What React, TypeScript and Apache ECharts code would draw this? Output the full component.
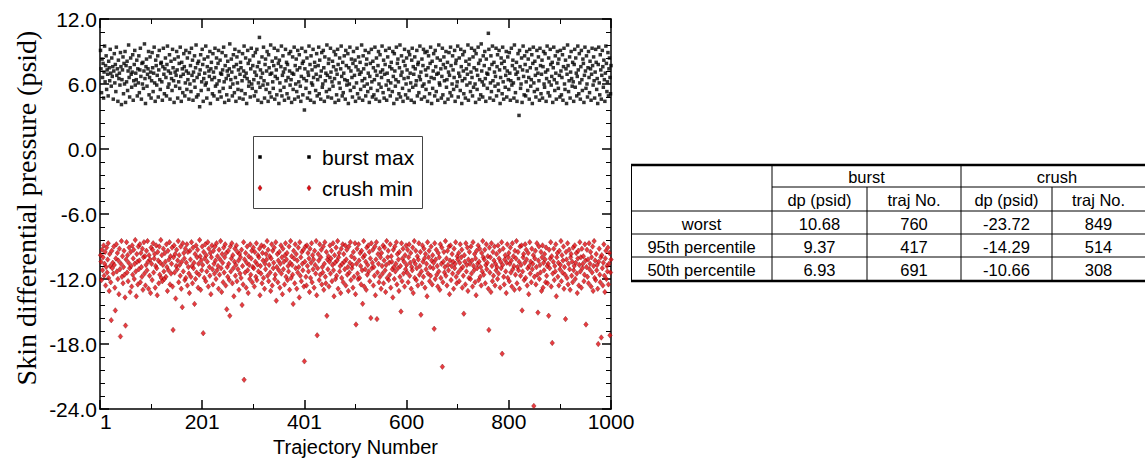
import React, { useEffect, useRef } from "react";
import * as echarts from "echarts";

// ---- Data ----
const burstMax: number[] = [
  9.1,7.4,5.2,8.3,6.6,7.9,4.7,7.1,9.5,6.2,7.7,8.6,5.5,7.3,6.9,4.9,8.1,7.5,6.3,9.2,7.0,5.8,8.4,6.7,7.6,
  4.6,7.2,8.8,6.1,7.8,5.3,9.4,6.8,7.4,4.4,8.2,6.5,7.0,5.9,8.9,7.6,4.1,6.4,7.3,8.5,5.1,7.9,6.0,9.0,4.3,
  7.7,6.2,8.1,5.4,7.2,9.6,6.6,4.8,7.5,8.4,6.9,5.7,7.1,8.7,4.5,6.3,7.8,9.1,5.9,7.0,6.4,8.2,4.9,7.4,6.1,
  8.6,5.2,7.3,9.3,6.7,4.6,7.9,6.0,8.0,5.6,7.2,9.7,6.5,4.2,7.6,8.3,5.8,6.9,7.4,9.0,5.0,6.6,8.5,7.1,4.7,
  6.3,8.9,7.5,5.3,7.0,9.4,6.1,4.4,8.2,7.7,5.9,6.8,8.6,4.8,7.3,9.1,6.4,5.5,7.9,8.0,6.2,4.5,7.6,9.3,6.9,
  5.1,7.4,8.4,6.6,4.9,7.8,9.5,5.7,7.2,6.0,8.7,4.6,7.0,8.1,6.5,5.4,9.2,7.5,6.3,4.3,8.3,7.1,5.8,6.8,9.0,
  7.3,4.7,8.5,6.2,7.9,5.6,9.4,6.7,4.4,8.0,7.4,5.2,6.9,8.8,7.6,4.9,6.1,9.1,7.2,5.5,8.4,6.4,7.0,4.6,8.9,
  6.0,7.7,5.3,9.3,6.8,8.2,4.5,7.1,6.3,8.6,5.7,7.5,9.6,4.8,6.6,7.9,5.0,8.1,6.9,3.9,7.3,8.7,5.4,6.2,9.2,
  7.8,4.4,6.5,8.3,7.0,5.9,9.5,6.1,4.7,7.6,8.5,5.5,7.2,6.7,9.0,4.2,7.4,8.0,6.4,5.1,8.8,7.1,4.9,6.6,9.3,
  5.8,7.5,8.4,6.0,4.6,7.9,9.1,6.3,5.3,8.2,7.0,4.8,6.9,8.9,7.3,5.6,9.4,6.2,4.3,7.7,8.6,6.5,5.0,7.2,8.1,
  6.8,4.5,7.4,9.7,5.7,6.4,8.3,7.1,4.9,6.0,8.7,7.6,5.2,9.2,6.6,4.4,7.8,8.5,6.1,5.5,7.3,9.0,4.7,6.9,8.0,
  7.5,5.4,6.3,8.8,4.6,7.2,9.5,6.7,5.1,8.4,7.0,4.2,6.5,9.1,7.9,5.8,6.2,8.2,4.8,7.4,9.3,6.0,5.6,7.7,8.6,
  6.4,4.9,7.1,8.9,5.3,6.8,9.2,7.6,4.5,6.1,8.0,10.3,5.7,7.3,6.6,4.3,8.5,7.0,5.9,9.4,6.3,4.7,7.8,8.3,5.5,
  7.2,9.0,6.0,4.4,8.7,7.5,5.2,6.9,9.6,4.8,7.0,8.1,6.2,5.6,7.7,9.3,4.6,6.7,8.4,7.3,5.0,6.5,9.1,7.9,4.2,
  8.2,6.1,5.4,7.6,9.5,4.9,6.8,8.6,7.1,5.7,4.5,7.4,9.2,6.3,8.0,5.1,7.8,6.6,4.7,8.8,7.2,5.9,9.0,6.4,4.3,
  7.0,8.5,5.5,6.9,9.4,4.6,7.7,6.0,8.3,5.3,7.3,9.1,4.8,6.2,8.7,7.5,5.8,4.4,6.7,9.3,7.9,5.0,8.1,6.5,3.6,
  7.4,9.0,5.6,6.3,8.4,4.7,7.1,6.8,9.5,5.2,7.8,4.5,8.6,6.1,7.3,5.9,9.2,6.6,4.3,8.0,7.6,5.4,6.9,8.8,4.9,
  6.4,7.7,9.4,5.1,8.2,6.7,4.6,7.2,8.9,5.7,6.0,9.1,7.5,4.4,8.5,6.3,7.0,5.3,9.6,6.8,4.8,7.9,8.3,5.5,6.6,
  9.3,7.1,4.7,6.2,8.1,5.8,7.6,9.0,6.5,4.3,8.7,7.3,5.0,6.9,9.2,7.8,4.5,6.1,8.4,5.6,7.4,9.5,6.7,4.9,8.0,
  5.2,7.0,8.6,6.4,4.6,9.1,7.7,5.9,6.3,8.8,4.2,7.5,6.0,9.4,5.4,7.2,8.3,6.6,4.8,7.9,9.0,5.7,6.8,8.2,4.4,
  7.6,6.1,9.3,5.1,7.3,8.5,4.7,6.9,8.0,5.5,7.1,9.6,6.3,4.5,8.6,7.4,5.8,6.5,9.1,4.9,7.8,8.3,6.0,5.3,7.0,
  8.9,4.3,6.7,7.9,5.6,9.2,6.2,4.8,8.1,7.5,5.0,6.4,9.4,7.2,4.6,8.4,6.8,5.4,7.7,9.0,6.0,4.4,8.7,7.1,5.7,
  6.6,9.5,7.3,5.2,8.2,4.7,6.9,7.8,9.1,5.9,4.5,7.0,8.5,6.3,5.5,9.3,7.6,4.9,6.1,8.0,7.4,5.3,9.0,6.7,4.2,
  8.8,7.2,5.8,6.4,9.4,4.6,7.9,8.3,6.2,5.1,7.5,9.6,4.8,6.8,8.6,7.1,5.6,4.4,8.1,6.5,9.2,7.7,5.0,6.0,8.4,
  7.3,4.7,6.6,9.0,5.4,8.7,7.0,6.1,4.5,8.2,9.3,5.7,7.6,6.9,4.3,8.5,7.4,5.9,6.3,9.1,4.9,7.8,8.0,5.2,6.7,
  9.5,6.4,7.1,4.6,8.3,5.8,7.7,9.2,6.0,4.8,8.9,7.3,5.5,6.8,9.0,4.4,7.5,8.6,6.2,5.1,7.9,9.4,6.6,4.2,8.1,
  5.6,7.2,8.8,6.5,4.9,9.1,7.6,5.3,6.9,8.4,4.5,7.0,9.6,6.1,5.9,8.2,7.4,4.7,6.7,9.3,5.0,7.8,8.5,6.3,4.3,
  7.5,9.0,5.7,6.4,8.0,4.6,7.1,8.9,6.8,5.2,9.4,7.7,4.9,6.0,8.6,7.3,5.5,6.6,9.1,4.4,7.9,8.2,5.8,6.2,9.5,
  4.8,7.0,8.4,6.7,5.4,9.2,7.6,4.2,6.3,8.7,7.2,5.1,9.0,6.5,4.7,8.1,7.4,5.9,6.9,9.6,4.5,7.8,8.3,6.1,5.3,
  7.1,9.3,6.6,4.9,8.5,5.7,7.5,9.1,6.0,4.3,8.8,7.3,5.5,6.8,9.4,7.9,4.6,6.4,8.2,5.0,9.7,7.2,6.2,4.8,8.6,
  5.9,7.7,9.0,6.5,4.4,8.3,7.0,5.6,6.9,10.68,9.2,7.4,4.7,6.1,8.6,5.3,7.8,9.5,6.3,4.5,8.0,7.1,5.8,6.7,9.3,
  4.9,7.6,8.7,6.0,5.4,9.1,7.3,4.2,6.6,8.4,7.9,5.1,9.4,6.2,4.6,8.1,7.5,5.7,6.8,9.0,4.8,7.2,8.5,6.4,5.5,
  8.9,7.0,4.5,6.3,9.3,5.9,7.7,8.2,6.1,4.7,9.6,7.4,5.2,6.9,8.0,4.4,7.1,8.8,6.5,3.1,9.1,7.6,5.6,6.0,8.4,
  4.3,7.3,9.5,6.7,5.0,8.6,7.8,4.9,6.2,9.0,7.2,5.4,8.3,6.6,4.6,9.2,7.5,5.8,6.4,8.7,4.2,7.9,9.4,6.1,5.3,
  8.1,6.8,4.8,7.4,9.1,5.5,7.0,8.5,6.3,4.5,9.3,7.7,5.1,6.9,8.2,4.7,7.6,9.0,6.0,5.7,8.8,7.1,4.4,6.5,9.5,
  7.3,5.2,8.4,6.2,4.9,9.2,7.8,5.9,6.7,8.0,4.3,7.5,9.4,6.4,5.4,8.6,7.0,4.6,6.1,9.0,7.9,5.6,8.3,6.8,4.8,
  9.1,7.2,5.0,6.6,8.7,4.5,7.6,9.3,6.0,5.5,8.2,7.4,4.2,6.9,9.6,7.7,5.3,6.3,8.5,4.7,7.1,9.0,6.5,5.8,8.0,
  6.2,4.4,7.8,9.2,5.7,8.4,7.0,4.9,6.7,9.5,7.3,5.1,8.8,6.1,4.6,7.6,9.1,6.4,5.4,8.3,7.9,4.3,6.8,9.4,7.2,
  5.6,8.6,6.0,4.8,7.5,9.0,6.6,5.2,8.1,7.4,4.5,6.9,9.3,7.7,5.9,8.5,6.3,4.7,7.1,9.2,8.0,5.5,6.5,4.2,7.8,
  9.4,6.1,5.0,8.7,7.3,4.6,6.8,9.1,7.6,5.7,8.2,6.4,4.4,7.0,9.5,7.9,5.3,6.2,8.9,4.9,7.4,8.4,6.6,5.1,7.7,
];

const crushMin: number[] = [
  -9.8,-10.4,-12.1,-9.3,-11.2,-10.0,-8.9,-11.7,-10.6,-9.5,-12.6,-10.9,-9.1,-11.4,-10.2,-8.7,-11.9,-13.1,-9.7,-10.8,-12.3,-15.8,-9.4,-11.0,-10.5,
  -11.5,-9.0,-10.7,-12.8,-14.9,-10.1,-8.8,-11.3,-9.6,-12.0,-10.3,-13.4,-9.2,-11.1,-17.3,-10.6,-8.5,-11.8,-9.9,-12.4,-10.9,-9.4,-11.6,-13.7,-16.3,
  -10.2,-8.6,-11.4,-9.8,-12.2,-10.5,-9.1,-11.0,-13.2,-9.5,-10.8,-12.7,-8.9,-11.6,-10.1,-9.3,-12.0,-10.6,-8.4,-11.3,-13.6,-9.7,-10.4,-12.5,-9.0,
  -11.1,-10.3,-8.8,-12.3,-9.6,-10.9,-11.8,-9.2,-13.0,-10.0,-8.6,-11.5,-9.9,-12.6,-10.7,-9.4,-11.2,-8.5,-10.4,-12.9,-9.8,-11.7,-10.2,-13.3,-9.1,
  -10.6,-12.1,-9.3,-8.7,-11.4,-10.1,-9.7,-12.8,-10.8,-8.9,-11.0,-13.5,-9.5,-10.3,-12.4,-9.0,-11.6,-10.5,-8.4,-11.9,-9.8,-12.2,-10.7,-9.2,-11.3,
  -12.0,-9.6,-10.4,-11.8,-8.8,-10.9,-13.1,-9.4,-11.2,-10.2,-8.6,-12.5,-9.9,-11.5,-10.6,-9.1,-12.7,-16.7,-10.0,-8.9,-11.4,-9.7,-13.8,-10.8,-9.3,
  -11.1,-10.3,-8.5,-12.3,-9.8,-10.7,-11.7,-9.0,-12.9,-10.4,-14.6,-8.7,-11.3,-9.6,-10.1,-12.1,-9.2,-11.9,-10.5,-8.8,-12.6,-9.5,-10.9,-11.5,-13.3,
  -9.4,-10.2,-11.8,-8.6,-10.8,-12.4,-9.1,-11.0,-10.5,-14.3,-9.7,-12.0,-8.9,-11.4,-10.0,-9.3,-12.8,-10.6,-11.6,-8.4,-9.9,-13.0,-10.3,-11.2,-9.0,
  -10.7,-17.0,-9.5,-11.9,-10.1,-8.8,-12.2,-9.8,-11.3,-10.4,-8.6,-12.7,-9.2,-10.9,-11.7,-9.6,-13.4,-10.0,-8.9,-11.1,-12.5,-9.4,-10.6,-11.5,-9.0,
  -10.3,-12.0,-8.7,-11.2,-9.9,-10.8,-12.9,-9.3,-11.6,-10.2,-8.5,-11.0,-13.2,-9.7,-10.5,-12.3,-9.1,-11.4,-10.0,-8.8,-12.6,-9.6,-14.8,-10.9,-11.8,
  -9.4,-10.6,-12.1,-15.4,-9.0,-11.3,-10.1,-8.7,-12.4,-9.8,-11.0,-13.6,-10.4,-9.2,-11.7,-10.7,-8.9,-12.2,-9.5,-11.1,-10.3,-13.0,-9.7,-11.5,-10.0,
  -11.9,-9.3,-14.4,-10.8,-12.5,-8.6,-21.3,-10.2,-11.4,-9.6,-12.8,-10.5,-9.0,-11.2,-13.3,-9.9,-10.7,-12.0,-8.8,-11.6,-10.1,-9.4,-12.3,-10.9,-9.1,
  -11.0,-12.7,-9.5,-10.4,-11.8,-8.7,-12.1,-10.66,-9.8,-11.3,-10.0,-9.2,-13.5,-10.8,-11.5,-8.9,-12.4,-9.6,-10.3,-11.9,-9.0,-12.9,-10.6,-11.1,-9.7,
  -10.2,-8.5,-11.7,-9.3,-12.2,-10.7,-9.9,-11.4,-13.1,-10.1,-8.8,-12.6,-9.4,-11.0,-10.5,-9.1,-12.0,-11.6,-8.6,-14.0,-10.9,-9.7,-12.3,-10.3,-11.2,
  -9.5,-12.8,-10.6,-8.9,-11.5,-10.0,-13.4,-9.2,-11.1,-10.4,-12.5,-9.8,-8.7,-11.8,-10.2,-9.6,-12.1,-10.8,-11.3,-9.0,-13.0,-10.5,-8.5,-11.9,-9.9,
  -10.7,-11.6,-14.3,-9.4,-10.1,-12.4,-8.8,-11.0,-9.7,-12.9,-10.3,-11.4,-9.1,-10.9,-13.7,-8.6,-11.7,-10.0,-12.2,-9.5,-10.6,-11.2,-9.3,-12.7,-19.6,
  -10.4,-9.0,-11.8,-12.6,-8.9,-10.8,-9.6,-11.3,-10.1,-13.2,-9.2,-11.9,-10.5,-8.7,-12.3,-9.8,-11.1,-10.2,-12.8,-9.4,-10.7,-11.5,-8.5,-13.5,-17.2,
  -11.0,-9.7,-10.3,-12.1,-8.8,-11.6,-10.0,-9.3,-12.5,-10.9,-11.4,-9.0,-13.0,-10.6,-8.6,-11.8,-12.4,-9.5,-15.4,-10.2,-11.1,-9.9,-12.7,-10.4,-8.9,
  -11.5,-10.1,-9.4,-12.2,-10.7,-8.7,-11.2,-13.6,-9.8,-10.5,-12.0,-9.1,-11.7,-10.3,-8.5,-12.9,-10.0,-9.6,-11.3,-10.8,-13.3,-9.2,-11.9,-10.6,-8.8,
  -12.3,-9.7,-10.4,-11.1,-8.9,-12.6,-10.2,-9.3,-11.6,-10.9,-13.1,-9.0,-11.4,-10.5,-8.6,-12.1,-9.9,-11.0,-10.7,-12.8,-9.5,-11.8,-10.1,-8.7,-13.4,
  -16.2,-10.6,-9.2,-11.5,-12.0,-8.8,-10.3,-11.9,-9.6,-10.8,-12.5,-9.4,-11.2,-14.29,-10.0,-8.5,-12.7,-9.8,-11.1,-10.4,-13.0,-9.1,-11.6,-10.7,-8.9,
  -11.3,-9.5,-12.2,-10.1,-15.6,-8.7,-11.0,-10.5,-9.3,-12.6,-10.9,-11.7,-9.0,-13.5,-10.2,-8.6,-15.7,-11.4,-9.7,-10.6,-12.3,-9.2,-11.8,-10.0,-12.9,
  -9.6,-10.8,-11.5,-8.9,-12.4,-10.3,-9.1,-11.2,-13.2,-10.7,-8.5,-11.9,-10.0,-9.4,-12.1,-10.5,-11.6,-8.8,-12.8,-9.9,-10.4,-11.1,-13.7,-9.3,-10.9,
  -12.0,-9.0,-11.3,-10.6,-8.6,-12.5,-9.7,-11.0,-10.2,-13.1,-9.5,-11.8,-10.8,-15.0,-8.7,-12.2,-10.1,-9.2,-11.5,-10.4,-12.7,-9.8,-11.1,-8.9,-10.7,
  -11.4,-9.3,-12.3,-10.0,-8.8,-11.7,-10.5,-9.6,-12.9,-10.9,-11.2,-9.1,-13.3,-10.3,-8.5,-11.9,-10.6,-9.4,-12.1,-11.0,-9.9,-12.6,-10.2,-8.7,-11.6,
  -10.8,-9.5,-15.3,-11.3,-12.4,-8.9,-10.4,-11.8,-9.2,-10.1,-12.8,-9.7,-11.1,-10.6,-13.6,-8.6,-11.5,-10.0,-9.4,-12.2,-10.9,-11.7,-9.0,-10.3,-12.5,
  -9.8,-11.0,-10.5,-16.6,-8.7,-12.0,-10.2,-9.3,-11.6,-10.8,-12.7,-9.6,-11.3,-10.0,-13.0,-8.8,-11.9,-10.6,-9.1,-20.1,-12.3,-10.4,-9.5,-11.4,-10.9,
  -8.5,-11.7,-10.1,-12.6,-9.4,-10.7,-11.2,-9.0,-13.4,-10.3,-8.9,-12.1,-10.8,-9.7,-11.5,-10.4,-12.9,-9.2,-11.0,-10.6,-8.6,-11.8,-12.4,-9.9,-10.2,
  -11.4,-9.6,-12.2,-10.5,-8.8,-11.1,-10.0,-9.3,-12.8,-10.9,-11.7,-15.2,-9.8,-10.4,-12.5,-8.7,-11.3,-10.7,-9.1,-13.1,-10.2,-11.9,-9.5,-10.6,-12.0,
  -9.0,-11.5,-10.3,-12.7,-8.6,-10.8,-11.2,-9.7,-12.3,-10.1,-13.5,-9.4,-11.0,-10.6,-8.9,-12.1,-10.4,-9.2,-11.8,-10.9,-12.6,-9.6,-11.3,-8.5,-10.0,
  -11.6,-10.2,-9.3,-12.4,-10.7,-8.8,-11.1,-10.5,-9.9,-12.9,-16.7,-9.1,-11.4,-10.0,-13.2,-8.7,-10.8,-12.2,-9.5,-11.7,-10.3,-9.0,-12.6,-10.6,-11.2,
  -9.7,-10.9,-12.0,-8.9,-11.5,-10.1,-9.4,-12.8,-10.4,-11.0,-8.6,-18.9,-10.7,-9.2,-11.8,-12.5,-10.2,-9.8,-11.3,-13.3,-10.5,-8.8,-11.9,-10.0,-9.6,
  -12.2,-10.6,-9.1,-11.4,-10.3,-12.7,-8.7,-11.1,-9.9,-10.8,-13.0,-9.4,-11.6,-10.1,-8.5,-12.4,-10.9,-9.5,-11.2,-10.4,-12.9,-9.0,-11.7,-10.7,-8.9,
  -14.9,-11.3,-10.0,-9.7,-12.1,-10.5,-8.8,-11.9,-9.3,-10.2,-12.6,-11.0,-9.6,-13.4,-10.8,-8.6,-11.5,-10.4,-12.3,-9.2,-11.1,-10.6,-9.8,-23.72,-11.8,
  -10.1,-9.4,-12.5,-10.9,-8.7,-11.6,-15.1,-10.3,-9.0,-12.0,-10.7,-11.4,-9.5,-13.1,-10.0,-8.9,-12.8,-10.5,-11.2,-9.7,-10.2,-12.3,-9.1,-11.7,-10.8,
  -12.4,-10.6,-15.4,-9.3,-11.0,-10.1,-8.6,-12.7,-9.9,-17.9,-11.5,-10.4,-9.2,-12.1,-10.8,-11.3,-8.8,-13.6,-10.0,-9.6,-11.8,-10.5,-12.6,-9.4,-11.1,
  -10.7,-8.5,-12.2,-9.8,-11.4,-10.3,-9.0,-12.9,-10.9,-11.6,-15.7,-9.5,-10.2,-11.9,-8.7,-12.5,-10.6,-9.3,-11.1,-13.0,-10.0,-9.7,-11.7,-10.4,-12.3,
  -9.1,-11.2,-10.8,-8.9,-12.0,-10.5,-9.6,-11.5,-13.3,-10.1,-9.4,-12.6,-10.7,-8.6,-11.3,-10.0,-12.8,-9.2,-11.0,-10.6,-9.9,-12.2,-11.6,-8.8,-10.3,
  -16.2,-10.9,-9.3,-11.8,-10.2,-12.4,-8.7,-11.1,-10.6,-9.5,-12.7,-10.0,-11.4,-9.0,-13.1,-10.8,-8.5,-11.9,-10.3,-12.1,-9.7,-11.2,-10.7,-12.9,-18.0,
  -10.4,-9.2,-11.6,-12.3,-10.0,-17.4,-9.8,-11.0,-12.6,-10.5,-8.8,-11.7,-13.2,-10.1,-9.4,-12.0,-10.8,-11.3,-9.1,-12.5,-10.6,-9.6,-17.2,-11.4,-10.2,
];

const trajectory: number[] = burstMax.map((_, i) => i + 1);

const xTickValues: number[] = [0, 200, 400, 600, 800, 1000];
const xTickLabels: string[] = ["1", "201", "401", "600", "800", "1000"];

const seriesNames: string[] = ["burst max", "crush min"];

const tableGroupHeaders: string[] = ["burst", "crush"];
const tableSubHeaders: string[] = ["dp (psid)", "traj No.", "dp (psid)", "traj No."];
const tableRowLabels: string[] = ["worst", "95th percentile", "50th percentile"];
const burstDp: string[] = ["10.68", "9.37", "6.93"];
const burstTraj: string[] = ["760", "417", "691"];
const crushDp: string[] = ["-23.72", "-14.29", "-10.66"];
const crushTraj: string[] = ["849", "514", "308"];

const RED = "#e40b12";
const RED_EDGE = "#7a0a0a";
const SANS = "Liberation Sans, Arial, sans-serif";
const SERIF = "Liberation Serif, Times New Roman, serif";

function buildTable(): any[] {
  const colX = [631, 772, 867, 961, 1052, 1145];
  const rowY = [165, 187, 211, 234, 257, 281];
  const els: any[] = [];
  const line = (x1: number, y1: number, x2: number, y2: number, w = 1) =>
    els.push({
      type: "line",
      shape: { x1, y1, x2, y2 },
      style: { stroke: "#000", lineWidth: w },
      silent: true,
    });
  const text = (t: string, cx: number, cy: number) =>
    els.push({
      type: "text",
      x: cx,
      y: cy,
      style: {
        text: t,
        fill: "#000",
        font: `16.5px ${SANS}`,
        align: "center",
        verticalAlign: "middle",
      },
      silent: true,
    });
  line(colX[0], rowY[0], colX[5], rowY[0], 2.5);
  line(colX[0], rowY[5], colX[5], rowY[5], 2.5);
  line(colX[0] + 0.5, rowY[0], colX[0] + 0.5, rowY[5], 1);
  line(colX[1], rowY[1], colX[5], rowY[1], 1);
  for (let r = 2; r <= 4; r++) line(colX[0], rowY[r], colX[5], rowY[r], 1);
  line(colX[1], rowY[0], colX[1], rowY[5], 1);
  line(colX[3], rowY[0], colX[3], rowY[5], 1);
  line(colX[2], rowY[1], colX[2], rowY[5], 1);
  line(colX[4], rowY[1], colX[4], rowY[5], 1);
  text(tableGroupHeaders[0], (colX[1] + colX[3]) / 2, (rowY[0] + rowY[1]) / 2 + 1);
  text(tableGroupHeaders[1], (colX[3] + colX[5]) / 2 + 4, (rowY[0] + rowY[1]) / 2 + 1);
  for (let c = 0; c < 4; c++)
    text(tableSubHeaders[c], (colX[c + 1] + colX[c + 2]) / 2, (rowY[1] + rowY[2]) / 2 + 1);
  for (let r = 0; r < 3; r++) {
    const cy = (rowY[r + 2] + rowY[r + 3]) / 2 + 1;
    text(tableRowLabels[r], (colX[0] + colX[1]) / 2, cy);
    text(burstDp[r], (colX[1] + colX[2]) / 2, cy);
    text(burstTraj[r], (colX[2] + colX[3]) / 2, cy);
    text(crushDp[r], (colX[3] + colX[4]) / 2, cy);
    text(crushTraj[r], (colX[4] + colX[5]) / 2, cy);
  }
  return els;
}

function buildLegend(): any[] {
  const els: any[] = [];
  els.push({
    type: "rect",
    shape: { x: 253.5, y: 136.5, width: 169, height: 72 },
    style: { fill: "#fff", stroke: "#444", lineWidth: 1 },
    silent: true,
    z: 10,
  });
  const rows = [157, 188];
  [260, 309].forEach((sx) => {
    els.push({
      type: "rect",
      shape: { x: sx - 1.75, y: rows[0] - 1.75, width: 3.5, height: 3.5 },
      style: { fill: "#000" },
      silent: true,
      z: 11,
    });
    els.push({
      type: "polygon",
      shape: {
        points: [
          [sx, rows[1] - 2.8],
          [sx + 2, rows[1]],
          [sx, rows[1] + 2.8],
          [sx - 2, rows[1]],
        ],
      },
      style: { fill: RED, stroke: RED_EDGE, lineWidth: 0.5 },
      silent: true,
      z: 11,
    });
  });
  seriesNames.forEach((n, i) => {
    els.push({
      type: "text",
      x: 322,
      y: rows[i],
      style: {
        text: n,
        fill: "#000",
        font: `21px ${SANS}`,
        align: "left",
        verticalAlign: "middle",
      },
      silent: true,
      z: 11,
    });
  });
  return els;
}

export default function App() {
  const ref = useRef<HTMLDivElement>(null);
  useEffect(() => {
    document.body.style.margin = "0";
    if (!ref.current) return;
    const chart = echarts.init(ref.current, null, { renderer: "svg" });
    const axisLine = { show: true, onZero: false, lineStyle: { color: "#000", width: 1.5 } };
    const xBase = {
      type: "value",
      min: 0,
      max: 1000,
      interval: 200,
      axisLine,
      axisTick: { show: true, inside: true, length: 9, lineStyle: { color: "#000", width: 1.5 } },
      minorTick: { show: true, splitNumber: 2, length: 5, lineStyle: { color: "#000", width: 1 } },
      splitLine: { show: false },
    };
    const yBase = {
      type: "value",
      min: -24,
      max: 12,
      interval: 6,
      axisLine,
      axisTick: { show: true, inside: true, length: 9, lineStyle: { color: "#000", width: 1.5 } },
      minorTick: { show: true, splitNumber: 5, length: 5, lineStyle: { color: "#000", width: 1 } },
      splitLine: { show: false },
    };
    chart.setOption({
      animation: false,
      backgroundColor: "#fff",
      grid: {
        left: 100,
        top: 19,
        width: 511,
        height: 390,
        containLabel: false,
        outerBoundsMode: "none",
      },
      xAxis: [
        {
          ...xBase,
          position: "bottom",
          name: "Trajectory Number",
          nameLocation: "middle",
          nameGap: 17,
          nameTextStyle: { color: "#000", fontSize: 20, fontFamily: SANS },
          axisLabel: {
            color: "#000",
            fontSize: 21,
            fontFamily: SANS,
            margin: 2,
            alignMinLabel: "left",
            formatter: (v: number) => {
              const i = xTickValues.indexOf(v);
              return i >= 0 ? xTickLabels[i] : "";
            },
          },
        },
        { ...xBase, position: "top", axisLabel: { show: false } },
      ],
      yAxis: [
        {
          ...yBase,
          position: "left",
          name: "Skin differential pressure (psid)",
          nameLocation: "middle",
          nameGap: 60,
          nameRotate: 90,
          nameTextStyle: {
            color: "#000",
            fontSize: 28,
            fontFamily: SERIF,
            padding: [0, 0, 0, 12],
          },
          axisLabel: {
            color: "#000",
            fontSize: 21,
            fontFamily: SANS,
            margin: 3,
            formatter: (v: number) => v.toFixed(1),
          },
        },
        { ...yBase, position: "right", axisLabel: { show: false } },
      ],
      series: [
        {
          name: seriesNames[0],
          type: "scatter",
          xAxisIndex: 0,
          yAxisIndex: 0,
          symbol: "rect",
          symbolSize: 3.5,
          itemStyle: { color: "#000" },
          data: trajectory.map((t, i) => [t, burstMax[i]]),
          z: 3,
        },
        {
          name: seriesNames[1],
          type: "scatter",
          xAxisIndex: 0,
          yAxisIndex: 0,
          symbol: "diamond",
          symbolSize: [4.5, 5.5],
          itemStyle: { color: RED, borderColor: RED_EDGE, borderWidth: 0.5 },
          data: trajectory.map((t, i) => [t, crushMin[i]]),
          z: 3,
        },
      ],
      graphic: [...buildLegend(), ...buildTable()],
    });
    return () => chart.dispose();
  }, []);
  return <div ref={ref} style={{ width: 1145, height: 458 }} />;
}
